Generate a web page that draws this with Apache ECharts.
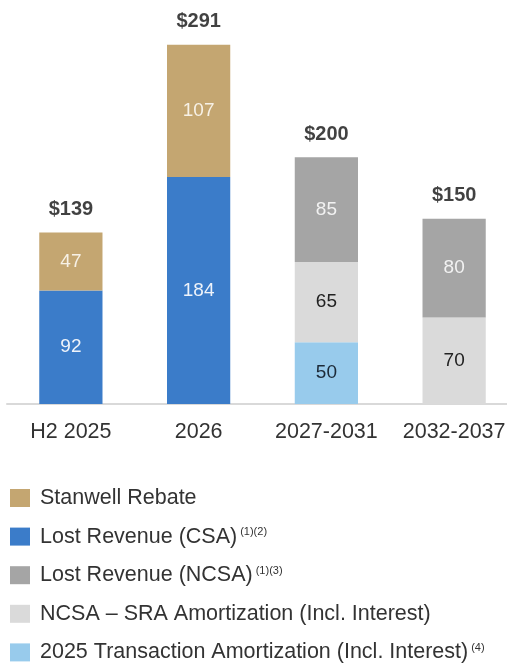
<!DOCTYPE html>
<html>
<head>
<meta charset="utf-8">
<script src="https://cdn.jsdelivr.net/npm/echarts@6/dist/echarts.min.js"></script>
<style>
  html, body { margin: 0; padding: 0; background: #ffffff; }
  #chart { width: 507px; height: 667px; }
</style>
</head>
<body>
<div id="chart"></div>
<script>
// Periods on the x axis
const categories = ['H2 2025', '2026', '2027-2031', '2032-2037'];

// Stacked components, bottom to top
const lostRevenueCSA = [92, 184, null, null];
const transactionAmort2025 = [null, null, 50, null];
const ncsaSraAmort = [null, null, 65, 70];
const lostRevenueNCSA = [null, null, 85, 80];
const stanwellRebate = [47, 107, null, null];

const stacks = [lostRevenueCSA, transactionAmort2025, ncsaSraAmort, lostRevenueNCSA, stanwellRebate];
const totals = categories.map((_, i) => stacks.reduce((s, arr) => s + (arr[i] || 0), 0));

const FONT = 'Liberation Sans, Arial, sans-serif';

function stackSeries(name, data, color, labelColor) {
  return {
    name: name,
    type: 'bar',
    stack: 'total',
    data: data,
    barWidth: '49.5%',
    itemStyle: { color: color },
    label: {
      show: true,
      position: 'inside',
      color: labelColor,
      fontFamily: FONT,
      fontSize: 19
    },
    emphasis: { disabled: true }
  };
}

const chart = echarts.init(document.getElementById('chart'));

chart.setOption({
  animation: false,
  backgroundColor: '#ffffff',
  grid: { left: 7, width: 511, top: 9, height: 395, containLabel: false, outerBoundsMode: 'none' },
  xAxis: {
    type: 'category',
    data: categories,
    axisTick: { show: false },
    axisLine: { lineStyle: { color: '#d9d9d9', width: 2 } },
    axisLabel: {
      interval: 0,
      hideOverlap: false,
      color: '#333333',
      fontFamily: FONT,
      fontSize: 21.5,
      margin: 17
    }
  },
  yAxis: {
    type: 'value',
    min: 0,
    max: 320,
    show: false,
    splitLine: { show: false }
  },
  legend: {
    orient: 'vertical',
    left: 10,
    top: 487,
    padding: 0,
    icon: 'rect',
    itemWidth: 20,
    itemHeight: 18,
    itemGap: 16.6,
    selectedMode: false,
    data: [
      'Stanwell Rebate',
      'Lost Revenue (CSA)',
      'Lost Revenue (NCSA)',
      'NCSA – SRA Amortization (Incl. Interest)',
      '2025 Transaction Amortization (Incl. Interest)'
    ],
    formatter: function (name) {
      const notes = {
        'Lost Revenue (CSA)': '(1)(2)',
        'Lost Revenue (NCSA)': '(1)(3)',
        '2025 Transaction Amortization (Incl. Interest)': '(4)'
      };
      return notes[name] ? '{m|' + name + '}{s|' + notes[name] + '}' : '{m|' + name + '}';
    },
    textStyle: {
      rich: {
        m: { color: '#333333', fontFamily: FONT, fontSize: 21.5, lineHeight: 20, padding: [0, 0, 0, 5] },
        s: { color: '#333333', fontFamily: FONT, fontSize: 11, lineHeight: 20, verticalAlign: 'top', padding: [0, 0, 0, 3] }
      }
    }
  },
  series: [
    stackSeries('Lost Revenue (CSA)', lostRevenueCSA, '#3b7cc9', '#eef3fa'),
    stackSeries('2025 Transaction Amortization (Incl. Interest)', transactionAmort2025, '#98cbec', '#1c2a38'),
    stackSeries('NCSA – SRA Amortization (Incl. Interest)', ncsaSraAmort, '#dadada', '#222222'),
    stackSeries('Lost Revenue (NCSA)', lostRevenueNCSA, '#a5a5a5', '#f2f2f2'),
    stackSeries('Stanwell Rebate', stanwellRebate, '#c4a671', '#f7f1e6'),
    {
      name: 'Total',
      type: 'scatter',
      data: totals,
      symbolSize: 0,
      silent: true,
      label: {
        show: true,
        position: 'top',
        distance: 13,
        formatter: p => '$' + p.value,
        color: '#111111',
        fontFamily: FONT,
        fontWeight: 'bold',
        fontSize: 20
      }
    }
  ]
});
</script>
</body>
</html>
